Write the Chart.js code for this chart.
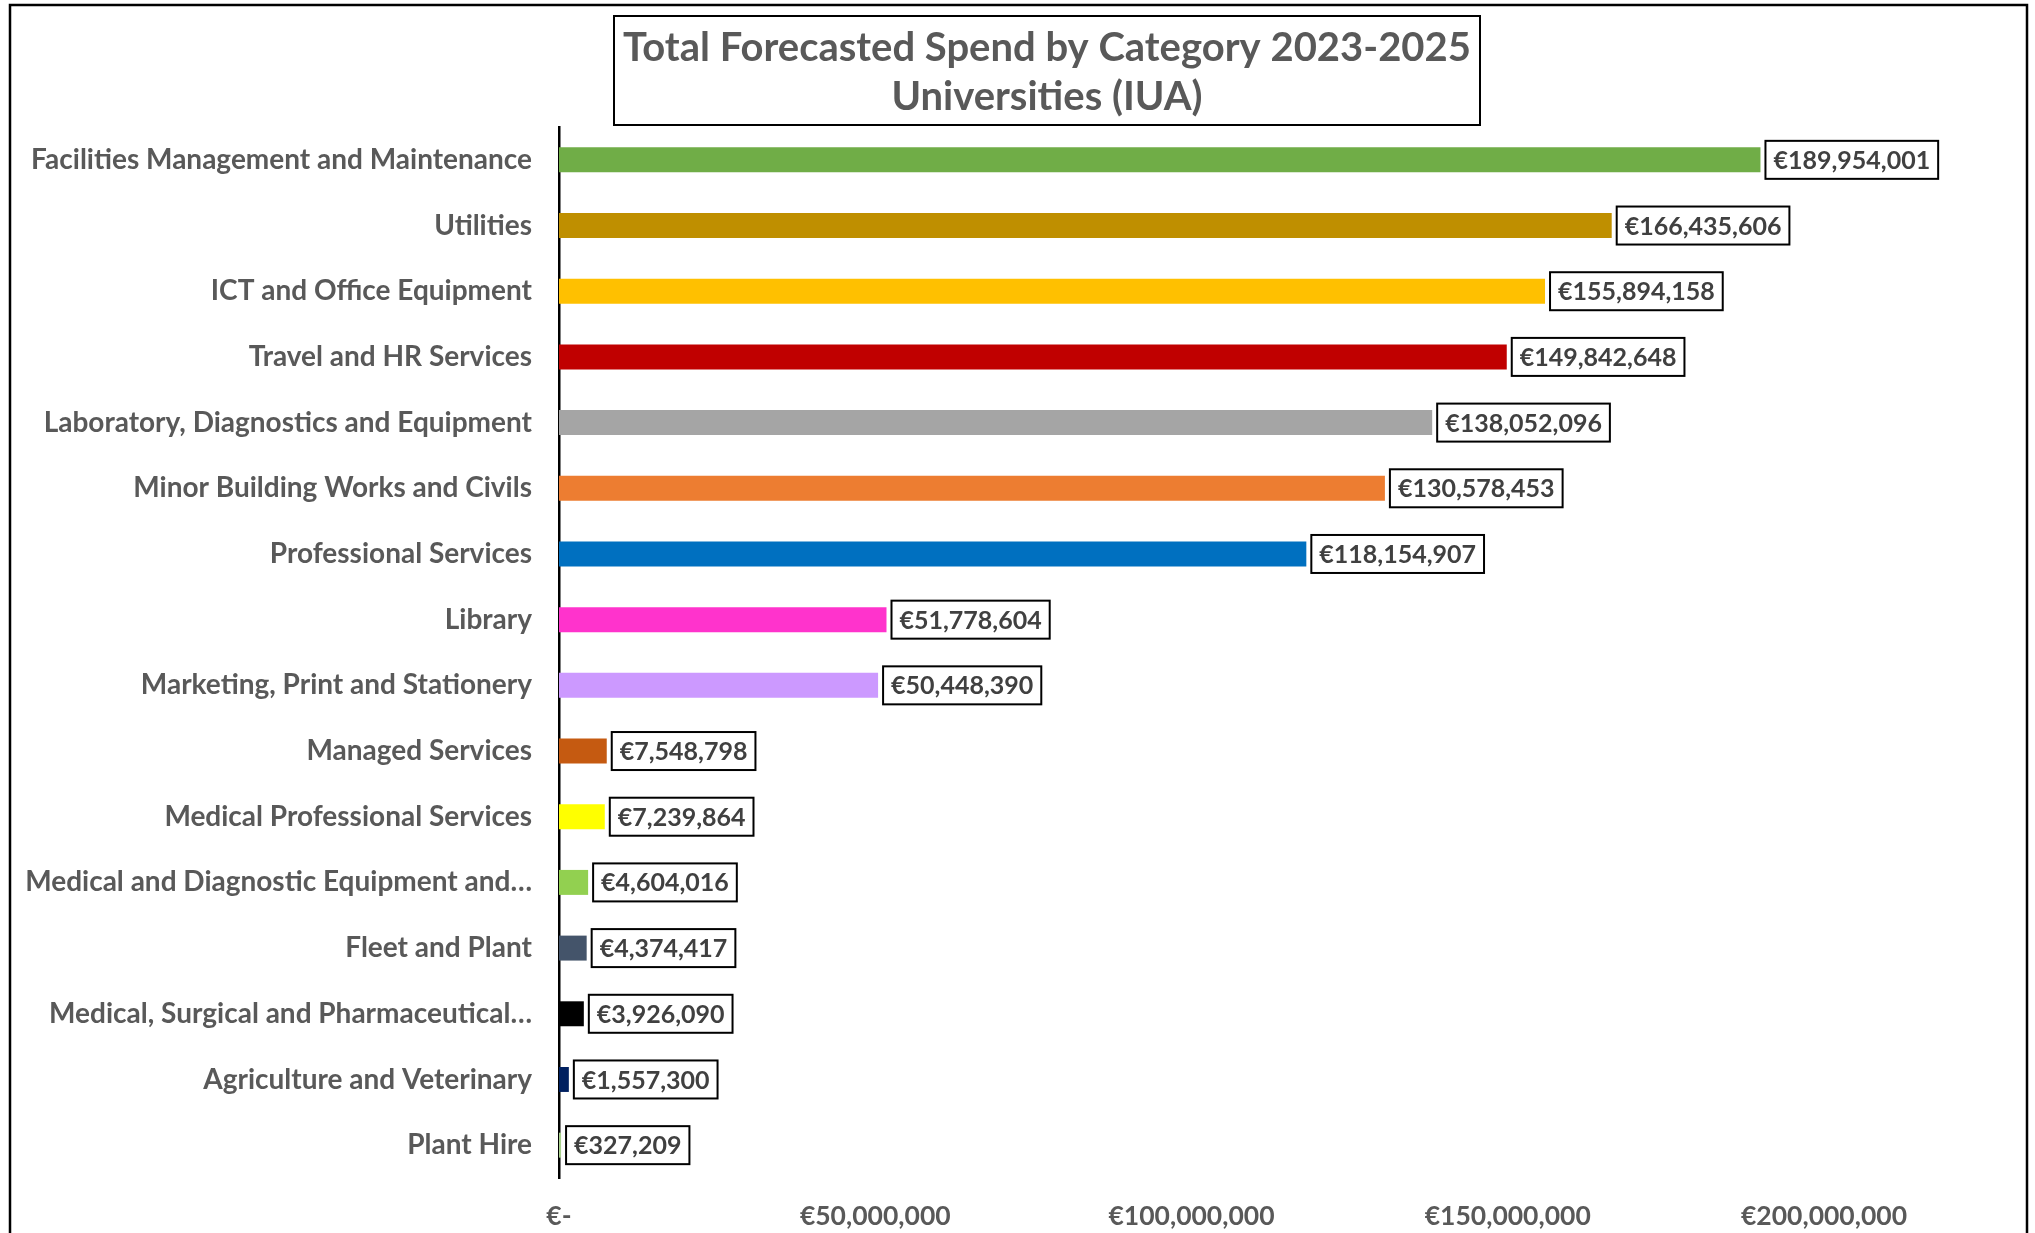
<!DOCTYPE html>
<html>
<head>
<meta charset="utf-8">
<script src="https://cdn.jsdelivr.net/npm/chart.js@4.4.1/dist/chart.umd.min.js"></script>
<style>
    html, body { margin: 0; padding: 0; background: #ffffff; }
    #wrap { width: 2035px; height: 1233px; position: relative; }
</style>
</head>
<body>
<div id="wrap"><canvas id="spendChart" width="2035" height="1233"></canvas></div>
<script>
// Chart data
const categories = [
    'Facilities Management and Maintenance',
    'Utilities',
    'ICT and Office Equipment',
    'Travel and HR Services',
    'Laboratory, Diagnostics and Equipment',
    'Minor Building Works and Civils',
    'Professional Services',
    'Library',
    'Marketing, Print and Stationery',
    'Managed Services',
    'Medical Professional Services',
    'Medical and Diagnostic Equipment and\u2026',
    'Fleet and Plant',
    'Medical, Surgical and Pharmaceutical\u2026',
    'Agriculture and Veterinary',
    'Plant Hire'
];
const spendValues = [
    189954001, 166435606, 155894158, 149842648, 138052096, 130578453,
    118154907, 51778604, 50448390, 7548798, 7239864, 4604016,
    4374417, 3926090, 1557300, 327209
];
const barColors = [
    '#70AD47', '#BF8F00', '#FFC000', '#C00000', '#A5A5A5', '#ED7D31',
    '#0070C0', '#FF33CC', '#CC99FF', '#C55A11', '#FFFF00', '#92D050',
    '#44546A', '#000000', '#002060', '#A9D18E'
];
const xTickValues = [0, 50000000, 100000000, 150000000, 200000000];
const xTickLabels = ['\u20AC-', '\u20AC50,000,000', '\u20AC100,000,000', '\u20AC150,000,000', '\u20AC200,000,000'];
const titleLines = ['Total Forecasted Spend by Category 2023-2025', 'Universities (IUA)'];

const FONT = 'Lato, "Open Sans", sans-serif';
const TEXT_GREY = '#595959';

// Outer frame and boxed title
const frameAndTitle = {
    id: 'frameAndTitle',
    beforeDraw(chart) {
        const ctx = chart.ctx;
        ctx.save();
        ctx.fillStyle = '#ffffff';
        ctx.fillRect(0, 0, chart.width, chart.height);
        ctx.restore();
    },
    afterDraw(chart) {
        const ctx = chart.ctx;
        ctx.save();
        ctx.strokeStyle = '#000000';
        ctx.lineWidth = 2.5;
        ctx.strokeRect(10, 5, 2017, 1260);

        ctx.lineWidth = 2;
        ctx.fillStyle = '#ffffff';
        ctx.fillRect(614, 16, 866, 109);
        ctx.strokeRect(614, 16, 866, 109);

        ctx.fillStyle = TEXT_GREY;
        ctx.font = 'bold 40px ' + FONT;
        ctx.textAlign = 'center';
        ctx.textBaseline = 'middle';
        ctx.fillText(titleLines[0], 1047, 48);
        ctx.fillText(titleLines[1], 1047, 97);
        ctx.restore();
    }
};

// Boxed value labels at bar ends
const valueLabels = {
    id: 'valueLabels',
    afterDatasetsDraw(chart) {
        const ctx = chart.ctx;
        const meta = chart.getDatasetMeta(0);
        ctx.save();
        ctx.font = 'bold 25px ' + FONT;
        ctx.textBaseline = 'middle';
        ctx.textAlign = 'left';
        meta.data.forEach((bar, i) => {
            const text = '\u20AC' + spendValues[i].toLocaleString('en-US');
            const w = ctx.measureText(text).width + 16;
            const h = 38;
            const x = bar.x + 5;
            const y = bar.y - h / 2;
            ctx.fillStyle = '#ffffff';
            ctx.fillRect(x, y, w, h);
            ctx.strokeStyle = '#000000';
            ctx.lineWidth = 2;
            ctx.strokeRect(x, y, w, h);
            ctx.fillStyle = '#404040';
            ctx.fillText(text, x + 8, bar.y + 1);
        });
        ctx.restore();
    }
};

const ctx = document.getElementById('spendChart').getContext('2d');
new Chart(ctx, {
    type: 'bar',
    data: {
        labels: categories,
        datasets: [{
            data: spendValues,
            backgroundColor: barColors,
            borderWidth: 0,
            barPercentage: 0.38,
            categoryPercentage: 1.0
        }]
    },
    options: {
        indexAxis: 'y',
        responsive: false,
        animation: false,
        devicePixelRatio: 1,
        layout: {
            padding: { top: 127, left: 0, right: 211, bottom: 0 }
        },
        plugins: {
            legend: { display: false },
            title: { display: false },
            tooltip: { enabled: false }
        },
        scales: {
            y: {
                grid: { display: false, drawTicks: false },
                border: { display: true, color: '#000000', width: 2.5 },
                ticks: {
                    color: TEXT_GREY,
                    font: { family: FONT, size: 28, weight: 'bold' },
                    padding: 27,
                    autoSkip: false
                },
                afterFit(scale) { scale.width = 559; }
            },
            x: {
                min: 0,
                max: 200000000,
                grid: { display: false, drawTicks: false },
                border: { display: false },
                afterBuildTicks(scale) {
                    scale.ticks = xTickValues.map(v => ({ value: v }));
                },
                ticks: {
                    color: TEXT_GREY,
                    font: { family: FONT, size: 26.5, weight: 'bold' },
                    padding: 23,
                    maxRotation: 0,
                    autoSkip: false,
                    callback: function(value, index) { return xTickLabels[index]; }
                },
                afterFit(scale) { scale.height = 55; }
            }
        }
    },
    plugins: [frameAndTitle, valueLabels]
});
</script>
</body>
</html>
